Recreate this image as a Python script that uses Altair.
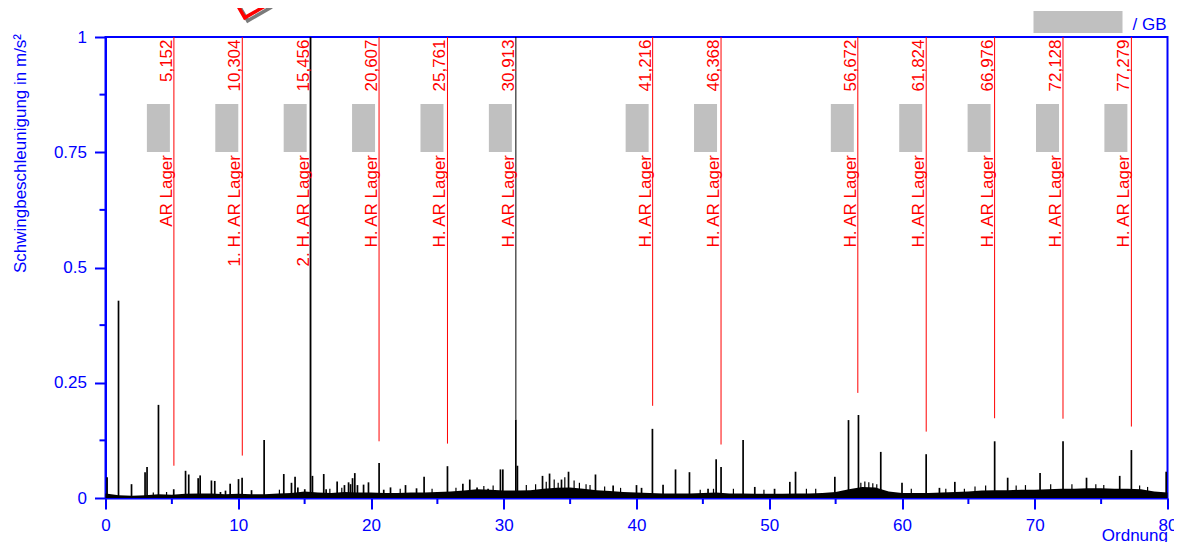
import altair as alt
import pandas as pd

# ---------------- data ----------------
peak_orders = [0.12, 0.98, 1.96, 2.98, 3.13, 3.99, 5.14, 6.03, 6.27, 6.98, 7.13, 7.98, 8.23,
               8.66, 9.04, 9.39, 10.02, 10.29, 11.0, 11.95, 13.43, 14.01, 14.28, 14.49, 15.01,
               15.44, 15.59, 16.44, 16.62, 17.45, 18.0, 18.31, 18.46, 18.61, 18.78, 18.98,
               19.44, 19.81, 20.61, 20.96, 21.47, 22.6, 23.43, 24.0, 25.76, 26.92, 27.44,
               27.99, 28.82, 29.75, 29.93, 30.91, 31.03, 32.92, 33.45, 34.35, 34.88, 36.91,
               38.24, 40.0, 40.38, 41.2, 42.0, 42.94, 43.99, 45.39, 46.0, 46.37, 48.03, 48.91,
               50.4, 51.55, 51.98, 54.94, 55.97, 56.72, 58.4, 60.0, 61.82, 62.82, 63.98,
               66.98, 67.96, 70.4, 72.13, 73.9, 76.4, 77.28, 79.9]
peak_heights = [0.045, 0.428, 0.03, 0.056, 0.067, 0.202, 0.019, 0.059, 0.051, 0.043, 0.049, 0.038, 0.037,
                0.013, 0.016, 0.031, 0.041, 0.044, 0.017, 0.126, 0.052, 0.033, 0.046, 0.023, 0.019,
                1.0, 0.048, 0.052, 0.019, 0.036, 0.028, 0.034, 0.03, 0.043, 0.054, 0.028,
                0.029, 0.034, 0.076, 0.018, 0.023, 0.028, 0.021, 0.046, 0.069, 0.031, 0.04,
                0.023, 0.02, 0.062, 0.062, 0.17, 0.07, 0.048, 0.053, 0.04, 0.057, 0.051,
                0.027, 0.028, 0.022, 0.15, 0.029, 0.062, 0.056, 0.02, 0.084, 0.067, 0.126, 0.024,
                0.02, 0.035, 0.057, 0.046, 0.169, 0.18, 0.1, 0.033, 0.095, 0.022, 0.035,
                0.123, 0.044, 0.054, 0.123, 0.044, 0.048, 0.104, 0.057]

# small noise spikes riding on the floor
noise_orders = [3.6, 4.6, 13.1, 16.9, 17.8, 22.2, 24.6, 26.4, 28.5, 29.2, 31.7, 32.4,
                33.2, 33.8, 34.1, 34.6, 35.3, 35.7, 36.2, 36.5, 37.6, 38.8, 44.8, 45.8,
                47.3, 49.6, 52.8, 53.5, 56.9, 57.2, 57.5, 57.8, 58.1, 60.7, 63.3, 64.7,
                65.5, 66.3, 68.6, 69.3, 71.2, 72.8, 74.6, 75.2, 77.9, 78.5]
noise_heights = [0.012, 0.013, 0.018, 0.02, 0.022, 0.02, 0.02, 0.022, 0.026, 0.027, 0.028, 0.03,
                 0.035, 0.04, 0.033, 0.045, 0.038, 0.033, 0.03, 0.028, 0.025, 0.022, 0.018, 0.02,
                 0.02, 0.018, 0.02, 0.02, 0.033, 0.036, 0.034, 0.032, 0.03, 0.02, 0.02, 0.02,
                 0.025, 0.027, 0.027, 0.028, 0.03, 0.03, 0.03, 0.028, 0.027, 0.024]

floor_orders = list(range(0, 81))
floor_levels = [0.010, 0.006, 0.005, 0.006, 0.008, 0.007, 0.009, 0.010, 0.010, 0.008,
                0.009, 0.008, 0.008, 0.010, 0.011, 0.014, 0.012, 0.011, 0.013, 0.012,
                0.012, 0.011, 0.011, 0.012, 0.012, 0.013, 0.014, 0.016, 0.019, 0.018,
                0.016, 0.016, 0.017, 0.020, 0.022, 0.023, 0.020, 0.017, 0.015, 0.013,
                0.012, 0.011, 0.010, 0.010, 0.010, 0.011, 0.012, 0.010, 0.010, 0.009,
                0.009, 0.009, 0.010, 0.010, 0.011, 0.013, 0.019, 0.024, 0.023, 0.014,
                0.011, 0.011, 0.011, 0.012, 0.013, 0.014, 0.016, 0.017, 0.017, 0.018,
                0.018, 0.019, 0.020, 0.020, 0.021, 0.021, 0.020, 0.020, 0.019, 0.014,
                0.012]

marker_orders = [5.152, 10.304, 15.456, 20.607, 25.761, 30.913, 41.216, 46.368,
                 56.672, 61.824, 66.976, 72.128, 77.279]
marker_values = ["5,152", "10,304", "15,456", "20,607", "25,761", "30,913", "41,216",
                 "46,368", "56,672", "61,824", "66,976", "72,128", "77,279"]
marker_names = ["AR Lager", "1. H. AR Lager", "2. H. AR Lager", "H. AR Lager",
                "H. AR Lager", "H. AR Lager", "H. AR Lager", "H. AR Lager",
                "H. AR Lager", "H. AR Lager", "H. AR Lager", "H. AR Lager", "H. AR Lager"]
marker_ends = [0.07, 0.092, 0.0, 0.123, 0.118, 0.17, 0.2, 0.116, 0.228, 0.144,
               0.173, 0.172, 0.155]
marker_class = ["a", "a", "b", "a", "a", "b", "a", "a", "a", "a", "a", "a", "a"]

x_major = [0, 10, 20, 30, 40, 50, 60, 70, 80]
x_minor = [5, 15, 25, 35, 45, 55, 65, 75]
y_major = [0, 0.25, 0.5, 0.75, 1]
y_minor = [0.125, 0.375, 0.625, 0.875]

y_title = "Schwingbeschleunigung in m/s²"
x_title = "Ordnung"
legend_text = "/ GB"

# ---------------- chart ----------------
BLUE = "#0000ff"
RED = "#ff0000"
GRAY = "#c0c0c0"
FONT = "Liberation Sans"
W, H = 1062, 461

peaks = pd.DataFrame({"order": peak_orders, "amp": peak_heights})
noise = pd.DataFrame({"order": noise_orders, "amp": noise_heights})
floor = pd.DataFrame({"order": floor_orders, "amp": floor_levels})
markers = pd.DataFrame({"order": marker_orders, "label": marker_values,
                        "name": marker_names, "stop": marker_ends, "cls": marker_class})

xs = alt.Scale(domain=[0, 80], nice=False, zero=False, padding=0)
ys = alt.Scale(domain=[0, 1], nice=False, padding=0)

x_enc = alt.X("order:Q", scale=xs,
              axis=alt.Axis(values=x_major, format="d", title=x_title, titleX=W,
                            titleY=42, titleAlign="right", titleBaseline="alphabetic",
                            labelFlush=False))
y_enc = alt.Y("amp:Q", scale=ys,
              axis=alt.Axis(values=y_major, labelExpr="'' + datum.value", title=y_title,
                            titleAngle=270, titleX=-80, titleY=116, titleAlign="center",
                            titleBaseline="alphabetic", labelFlush=False))

floor_layer = alt.Chart(floor).mark_area(color="black", interpolate="linear").encode(
    x=x_enc, y=y_enc)

marker_lines = alt.Chart(markers).mark_rule(strokeWidth=1).encode(
    x="order:Q", y="stop:Q", y2=alt.datum(1),
    color=alt.Color("cls:N", scale=alt.Scale(domain=["a", "b"], range=[RED, "black"]),
                    legend=None))

noise_layer = alt.Chart(noise).mark_rule(color="black", strokeWidth=1.2).encode(
    x="order:Q", y="amp:Q", y2=alt.datum(0))

peak_layer = alt.Chart(peaks).mark_rule(color="black", strokeWidth=1.7).encode(
    x="order:Q", y="amp:Q", y2=alt.datum(0))

value_text = alt.Chart(markers).mark_text(
    angle=270, align="right", baseline="alphabetic", dx=-2.5, dy=-2,
    fontSize=17, font=FONT, color=RED).encode(
    x="order:Q", y=alt.value(0), text="label:N")

name_text = alt.Chart(markers).mark_text(
    angle=270, align="right", baseline="alphabetic", dx=-118, dy=-2,
    fontSize=17, font=FONT, color=RED).encode(
    x="order:Q", y=alt.value(0), text="name:N")

boxes = alt.Chart(markers).mark_bar(width=23, xOffset=-15.5, color=GRAY).encode(
    x="order:Q", y=alt.value(67), y2=alt.value(115))

xminor_layer = alt.Chart(pd.DataFrame({"order": x_minor})).mark_rule(
    color=BLUE, strokeWidth=2).encode(x="order:Q", y=alt.value(H), y2=alt.value(H + 6))
yminor_layer = alt.Chart(pd.DataFrame({"amp": y_minor})).mark_rule(
    color=BLUE, strokeWidth=2).encode(y="amp:Q", x=alt.value(-6), x2=alt.value(0))

one = pd.DataFrame({"k": [0]})
legend_box = alt.Chart(one).mark_rect(color=GRAY).encode(
    x=alt.value(928), x2=alt.value(1017), y=alt.value(-26), y2=alt.value(-4))
legend_label = alt.Chart(one).mark_text(
    text=legend_text, align="right", baseline="alphabetic", fontSize=17, font=FONT,
    color=BLUE).encode(x=alt.value(W - 1), y=alt.value(-7.5))

logo_shadow = alt.Chart(one).mark_point(
    shape="square", size=676, angle=330, filled=False, strokeWidth=3.5,
    color="#7a7a7a", opacity=1).encode(x=alt.value(147), y=alt.value(-34))
logo = alt.Chart(one).mark_point(
    shape="square", size=676, angle=330, filled=False, strokeWidth=3.5,
    color=RED, opacity=1).encode(x=alt.value(144), y=alt.value(-37))

chart = alt.layer(
    floor_layer, marker_lines, noise_layer, peak_layer, xminor_layer, yminor_layer,
    boxes, value_text, name_text, legend_box, legend_label, logo_shadow, logo
).properties(
    width=W, height=H,
    autosize=alt.AutoSizeParams(type="none"),
    padding={"left": 97.5, "top": 29, "right": 6.5, "bottom": 44},
).configure(font=FONT).configure_view(
    stroke=BLUE, strokeWidth=2
).configure_axis(
    domainColor=BLUE, domainWidth=2, tickColor=BLUE, tickWidth=2, tickSize=11,
    labelColor=BLUE, labelFontSize=17, labelFont=FONT, labelPadding=8,
    titleColor=BLUE, titleFontSize=17, titleFont=FONT, titleFontWeight="normal",
    grid=False
)

chart.save("out.html", embed_options={"renderer": "svg", "actions": False})
